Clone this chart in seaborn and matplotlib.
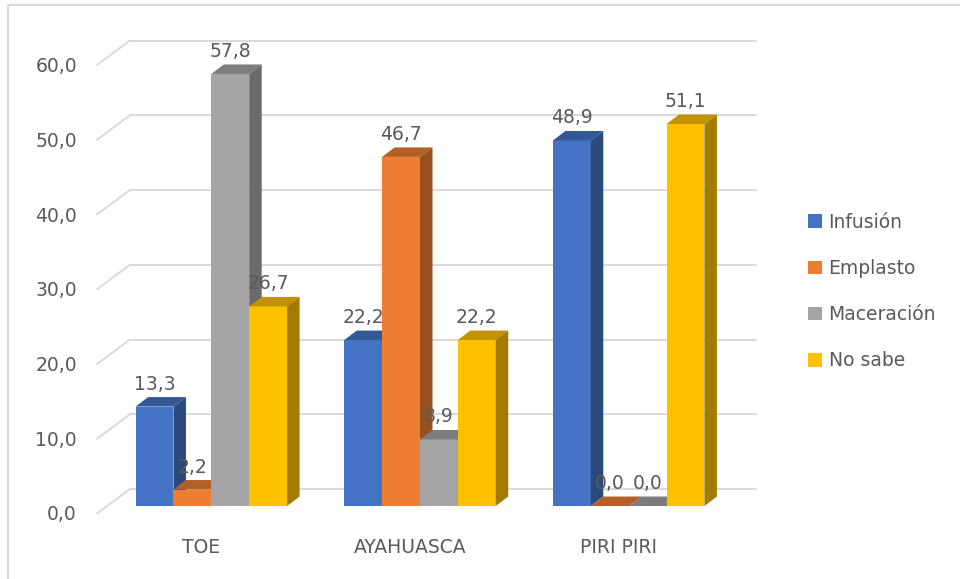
import pandas as pd
import numpy as np
import matplotlib
matplotlib.use("Agg")
import matplotlib.pyplot as plt
import seaborn as sns
from matplotlib.patches import Polygon, Patch
from matplotlib.lines import Line2D
from matplotlib.transforms import ScaledTranslation, IdentityTransform

# Datos del grafico (porcentajes por forma de preparacion)
plantas = ["TOE", "AYAHUASCA", "PIRI PIRI"]
formas = ["Infusión", "Emplasto", "Maceración", "No sabe"]
infusion = [13.3, 22.2, 48.9]
emplasto = [2.2, 46.7, 0.0]
maceracion = [57.8, 8.9, 0.0]
no_sabe = [26.7, 22.2, 51.1]
yticks = [0, 10, 20, 30, 40, 50, 60]
colores = ["#4472C4", "#ED7D31", "#A5A5A5", "#FFC000"]

df = pd.DataFrame({
    "planta": plantas * 4,
    "forma": np.repeat(formas, 3),
    "valor": infusion + emplasto + maceracion + no_sabe,
})

gris_txt = "#595959"
gris_lin = "#d9d9d9"
fs = 13.5

sns.set_theme(style="white")
plt.rcParams["font.family"] = ["DejaVu Sans"]

fig = plt.figure(figsize=(9.6, 5.79), dpi=100)
# plano frontal de las barras
ax = fig.add_axes([107 / 960, 73 / 579, 626 / 960, 448.5 / 579])
sns.barplot(data=df, x="planta", y="valor", hue="forma", palette=colores,
            width=0.726, saturation=1, linewidth=0, legend=False, ax=ax)
ax.set_xlim(-0.5, 2.5)
ax.set_ylim(0, 60)
ax.set_xlabel("")
ax.set_ylabel("")
ax.set_xticks([])
ax.set_yticks([])
for s in ax.spines.values():
    s.set_visible(False)
ax.patch.set_alpha(0)


def desplaza(dx, dy):
    # desplazamiento en pixeles (dpi = 100)
    return ScaledTranslation(dx / 100, dy / 100, fig.dpi_scale_trans)


# profundidad 3D
frente = (-10, -7.5)
fondo = (23, 17)
prof = (12.5, 9.5)

x0, x1 = ax.get_xlim()
for t in yticks:
    # lineas de la pared del fondo
    ax.plot([x0, x1], [t, t], color=gris_lin, lw=1.4, zorder=0, clip_on=False,
            transform=ax.transData + desplaza(*fondo))
    # pared izquierda
    pf = ax.transData.transform((x0, t))
    xs = [pf[0] + frente[0], pf[0] + fondo[0]]
    ys = [pf[1] + frente[1], pf[1] + fondo[1]]
    fig.add_artist(Line2D(xs, ys, color=gris_lin, lw=1.4, transform=IdentityTransform()))
    ax.text(x0, t, f"{t:.1f}".replace(".", ","), ha="right", va="baseline",
            fontsize=fs, color=gris_txt,
            transform=ax.transData + desplaza(-30, -14.5))

# caras laterales y superiores de las barras
barras = sorted(ax.patches, key=lambda p: p.get_x())
for k, p in enumerate(barras):
    base = np.array(matplotlib.colors.to_rgb(p.get_facecolor()))
    p.set_zorder(3 + k)
    xl, yb = ax.transData.transform((p.get_x(), 0))
    xr, yt = ax.transData.transform((p.get_x() + p.get_width(), p.get_height()))
    dx, dy = prof
    top = Polygon([(xl, yt), (xr, yt), (xr + dx, yt + dy), (xl + dx, yt + dy)],
                  closed=True, facecolor=base * 0.76, lw=0,
                  transform=IdentityTransform(), zorder=3 + k)
    side = Polygon([(xr, yb), (xr, yt), (xr + dx, yt + dy), (xr + dx, yb + dy)],
                   closed=True, facecolor=base * 0.64, lw=0,
                   transform=IdentityTransform(), zorder=3 + k)
    ax.add_patch(top)
    ax.add_patch(side)
    v = p.get_height()
    ax.text(p.get_x() + p.get_width() / 2, v, f"{v:.1f}".replace(".", ","),
            ha="center", va="baseline", fontsize=fs, color=gris_txt, zorder=50,
            transform=ax.transData + desplaza(0, 17))

# etiquetas de categorias
for i, nombre in enumerate(plantas):
    ax.text(i, 0, nombre, ha="center", va="baseline", fontsize=fs, color=gris_txt,
            transform=ax.transData + desplaza(-10, -47))

# leyenda
handles = [Patch(facecolor=c, edgecolor="none", label=f) for c, f in zip(colores, formas)]
fig.legend(handles=handles, loc="center left", bbox_to_anchor=(808 / 960, 1 - 291.5 / 579),
           frameon=False, fontsize=fs, labelcolor=gris_txt, borderpad=0, borderaxespad=0,
           handlelength=0.75, handleheight=0.75, handletextpad=0.35, labelspacing=1.45)

# marco del grafico (solo se ve arriba y a la izquierda)
fig.add_artist(Line2D([8 / 960, 8 / 960, 1.0], [0.0, 1 - 5 / 579, 1 - 5 / 579],
                      color=gris_lin, lw=1.5, transform=fig.transFigure))

fig.savefig("out.png", dpi=100)
